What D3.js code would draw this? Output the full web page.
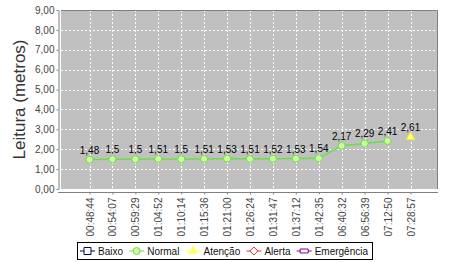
<!DOCTYPE html>
<html>
<head>
<meta charset="utf-8">
<script src="https://cdn.jsdelivr.net/npm/d3@7"></script>
<style>
  body { margin: 0; background: #fff; }
  svg { display: block; font-family: "Liberation Sans", Arial, sans-serif; }
</style>
</head>
<body>
<svg id="chart" width="450" height="262"></svg>
<script>
const categories = ["00:48:44", "00:54:07", "00:59:29", "01:04:52", "01:10:14", "01:15:36", "01:21:00",
  "01:26:24", "01:31:47", "01:37:12", "01:42:35", "06:40:32", "06:56:39", "07:12:50", "07:28:57"];
const normalValues = [1.48, 1.5, 1.5, 1.51, 1.5, 1.51, 1.53, 1.51, 1.52, 1.53, 1.54, 2.17, 2.29, 2.41, null];
const atencaoValues = [null, null, null, null, null, null, null, null, null, null, null, null, null, null, 2.61];
const yTicks = [0, 1, 2, 3, 4, 5, 6, 7, 8, 9];
const legendItems = ["Baixo", "Normal", "Atenção", "Alerta", "Emergência"];

const svg = d3.select("#chart");
const plot = { left: 61, right: 438, top: 10, bottom: 189 };

const x = d3.scalePoint()
  .domain(categories)
  .range([89.5, 410.5]);

const y = d3.scaleLinear()
  .domain([0, 9])
  .range([plot.bottom, plot.top]);

const fmt = v => d3.format(".2f")(v).replace(".", ",");
const fmtShort = v => String(v).replace(".", ",");

// fundo da area de plotagem
svg.append("rect")
  .attr("x", plot.left)
  .attr("y", plot.top)
  .attr("width", plot.right - plot.left)
  .attr("height", plot.bottom - plot.top)
  .attr("fill", "#c0c0c0");

// grade
svg.append("g")
  .selectAll("line")
  .data(yTicks.slice(1, -1))
  .enter().append("line")
  .attr("x1", plot.left).attr("x2", plot.right)
  .attr("y1", d => Math.round(y(d)) + 0.5).attr("y2", d => Math.round(y(d)) + 0.5)
  .attr("stroke", "#fff")
  .attr("stroke-dasharray", "2,2");

svg.append("g")
  .selectAll("line")
  .data(categories)
  .enter().append("line")
  .attr("x1", d => Math.round(x(d)) + 0.5).attr("x2", d => Math.round(x(d)) + 0.5)
  .attr("y1", plot.top).attr("y2", plot.bottom)
  .attr("stroke", "#fff")
  .attr("stroke-dasharray", "2,2");

svg.append("path")
  .attr("d", `M${plot.left},${plot.top + 0.5}H${plot.right - 0.5}V${plot.bottom}`)
  .attr("fill", "none")
  .attr("stroke", "#808080");

// eixo y
const yAxis = svg.append("g")
  .attr("transform", `translate(${plot.left - 2.5},0)`)
  .call(d3.axisLeft(y).tickValues(yTicks).tickSize(2).tickSizeOuter(0).tickFormat(fmt));
yAxis.select(".domain").attr("stroke", "#808080");
yAxis.selectAll(".tick line").attr("stroke", "#808080");
yAxis.selectAll("text")
  .attr("font-family", "Liberation Sans")
  .attr("font-size", 10)
  .attr("fill", "#444")
  .attr("x", -4);

// eixo x
const xAxis = svg.append("g")
  .attr("transform", `translate(0,${plot.bottom + 3.5})`)
  .call(d3.axisBottom(x).tickSize(2).tickSizeOuter(0));
xAxis.select(".domain")
  .attr("d", `M${plot.left - 3},0H${plot.right}`)
  .attr("stroke", "#808080");
xAxis.selectAll(".tick line").attr("stroke", "#808080");
xAxis.selectAll("text")
  .attr("font-family", "Liberation Sans")
  .attr("font-size", 10)
  .attr("fill", "#444")
  .attr("transform", "rotate(-90)")
  .attr("text-anchor", "end")
  .attr("x", -5)
  .attr("y", 0)
  .attr("dy", "0.35em");

svg.append("text")
  .attr("transform", `translate(25,${(plot.top + plot.bottom) / 2}) rotate(-90)`)
  .attr("text-anchor", "middle")
  .attr("font-size", 17)
  .attr("fill", "#333")
  .text("Leitura (metros)");

// serie normal
const normalData = categories.map((c, i) => ({ c, v: normalValues[i] })).filter(d => d.v != null);
const line = d3.line().x(d => x(d.c)).y(d => y(d.v));

svg.append("path")
  .datum(normalData)
  .attr("d", line)
  .attr("fill", "none")
  .attr("stroke", "#6ddd4d")
  .attr("stroke-width", 1.5);

svg.append("g")
  .selectAll("circle")
  .data(normalData)
  .enter().append("circle")
  .attr("cx", d => x(d.c))
  .attr("cy", d => y(d.v))
  .attr("r", 3.5)
  .attr("fill", "#ccff99")
  .attr("stroke", "#6ddd4d");

// serie atencao
const atencaoData = categories.map((c, i) => ({ c, v: atencaoValues[i] })).filter(d => d.v != null);
const triangle = d3.symbol().type(d3.symbolTriangle).size(30);
svg.append("g")
  .selectAll("path")
  .data(atencaoData)
  .enter().append("path")
  .attr("transform", d => `translate(${x(d.c)},${y(d.v)})`)
  .attr("d", triangle)
  .attr("fill", "#ffff66")
  .attr("stroke", "#eeee44");

// rotulos
const allData = normalData.concat(atencaoData);
svg.append("g")
  .selectAll("text")
  .data(allData)
  .enter().append("text")
  .attr("x", d => x(d.c))
  .attr("y", d => y(d.v) - 6)
  .attr("text-anchor", "middle")
  .attr("font-size", 10)
  .attr("fill", "#000")
  .text(d => fmtShort(d.v));

// legenda
const legendColors = ["#000066", "#6ddd4d", "#ffff66", "#dd3333", "#880088"];
const legendBox = { left: 77, right: 372, top: 242, bottom: 259 };
const legend = svg.append("g");
legend.append("rect")
  .attr("x", legendBox.left + 0.5).attr("y", legendBox.top + 0.5)
  .attr("width", legendBox.right - legendBox.left).attr("height", legendBox.bottom - legendBox.top)
  .attr("fill", "#fff")
  .attr("stroke", "#000");

const items = legend.selectAll("g.item")
  .data(legendItems)
  .enter().append("g")
  .attr("class", "item");

items.append("line")
  .attr("x1", 0).attr("x2", 15)
  .attr("stroke", (d, i) => legendColors[i]);

items.append("path")
  .attr("transform", "translate(7.5,0)")
  .attr("d", (d, i) => {
    if (i === 0) return "M-3.5,-3.5h7v7h-7z";
    if (i === 1) return d3.symbol().type(d3.symbolCircle).size(38)();
    if (i === 2) return d3.symbol().type(d3.symbolTriangle).size(30)();
    if (i === 3) return "M0,-4L4,0L0,4L-4,0z";
    return "M-4,-2h8v4h-8z";
  })
  .attr("fill", (d, i) => i === 1 ? "#ccff99" : i === 2 ? "#ffff66" : "#fff")
  .attr("stroke", (d, i) => legendColors[i]);

const labels = items.append("text")
  .attr("x", 18)
  .attr("dy", "0.35em")
  .attr("font-size", 10)
  .attr("fill", "#111")
  .text(d => d);

// distribui os itens dentro da caixa
const widths = labels.nodes().map(n => 18 + n.getComputedTextLength());
const inner = (legendBox.right - 4) - (legendBox.left + 3);
const gap = (inner - d3.sum(widths)) / (widths.length - 1);
let cursor = legendBox.left + 3;
items.attr("transform", (d, i) => {
  const t = `translate(${cursor},${(legendBox.top + legendBox.bottom) / 2 + 0.5})`;
  cursor += widths[i] + gap;
  return t;
});
</script>
</body>
</html>
